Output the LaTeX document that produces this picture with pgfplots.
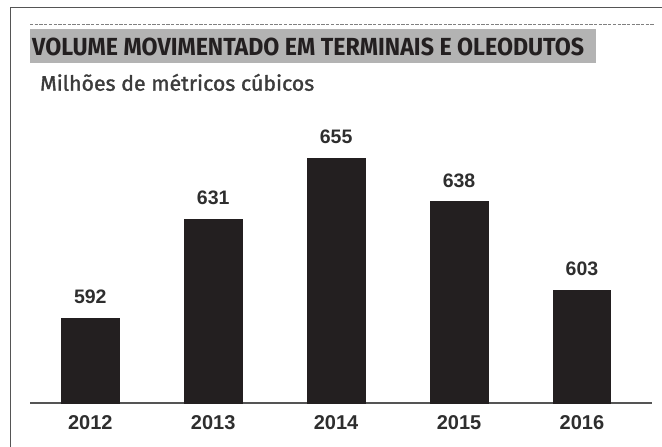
\documentclass[border=0pt]{standalone}
\usepackage{pgfplots}
\pgfplotsset{compat=1.18}
\usepackage{fontspec}
\usepackage{graphicx}
\setmainfont{Liberation Sans}
\newfontfamily\firafont{Fira Sans}
\newfontfamily\firasemi[FakeBold=1.4]{Fira Sans}
\definecolor{barc}{HTML}{231F20}
\definecolor{boxc}{HTML}{B3B3B3}
\definecolor{framec}{HTML}{555555}
\definecolor{txtc}{HTML}{2E2E2E}
\definecolor{subc}{HTML}{3C3C3C}
\begin{document}
\begin{tikzpicture}[x=1pt,y=1pt]
\path[use as bounding box] (0,0) rectangle (662,447);
% frame
\draw[framec, line width=1.5pt] (10.5,0) -- (10.5,439.7) -- (662,439.7);
% dashed line
\draw[gray, line width=0.8pt, dash pattern=on 3.3pt off 1.4pt] (30,423) -- (655,423);
% title box
\fill[boxc] (29.5,383.7) rectangle (596,417.7);
\node[anchor=base west, inner sep=0pt, text=barc] at (32,391)
  {\resizebox{552pt}{\height}{\firafont\bfseries\fontsize{24.7pt}{26pt}\selectfont VOLUME MOVIMENTADO EM TERMINAIS E OLEODUTOS}};
\node[anchor=base west, inner sep=0pt, text=subc] at (40,356.3)
  {\resizebox{274pt}{\height}{\firasemi\fontsize{21pt}{23pt}\selectfont Milhões de métricos cúbicos}};
\begin{axis}[
  at={(30pt,44pt)}, anchor=south west,
  scale only axis,
  width=622pt, height=308.2pt,
  xmin=-0.4906, xmax=4.570,
  ymin=558.65, ymax=680,
  axis x line*=bottom,
  axis y line=none,
  axis line style={draw=framec, line width=1.8pt},
  x axis line style={-},
  xtick=data,
  xticklabels={2012,2013,2014,2015,2016},
  major tick length=0pt,
  xticklabel style={inner sep=0pt, anchor=north, yshift=-12pt, text=txtc,
     font=\bfseries\fontsize{20pt}{22pt}\selectfont},
  ytick=\empty,
  clip=false,
  ybar, bar width=57.5pt,
  nodes near coords,
  /pgf/number format/assume math mode=true,
  every node near coord/.style={anchor=south, inner sep=0pt, yshift=14pt, text=txtc,
     font=\bfseries\fontsize{19.5pt}{21pt}\selectfont},
]
\addplot[fill=barc, draw=barc, bar shift=0pt] coordinates {(0,592) (1,631) (2,655) (3,638) (4,603)};
\end{axis}
\end{tikzpicture}
\end{document}
